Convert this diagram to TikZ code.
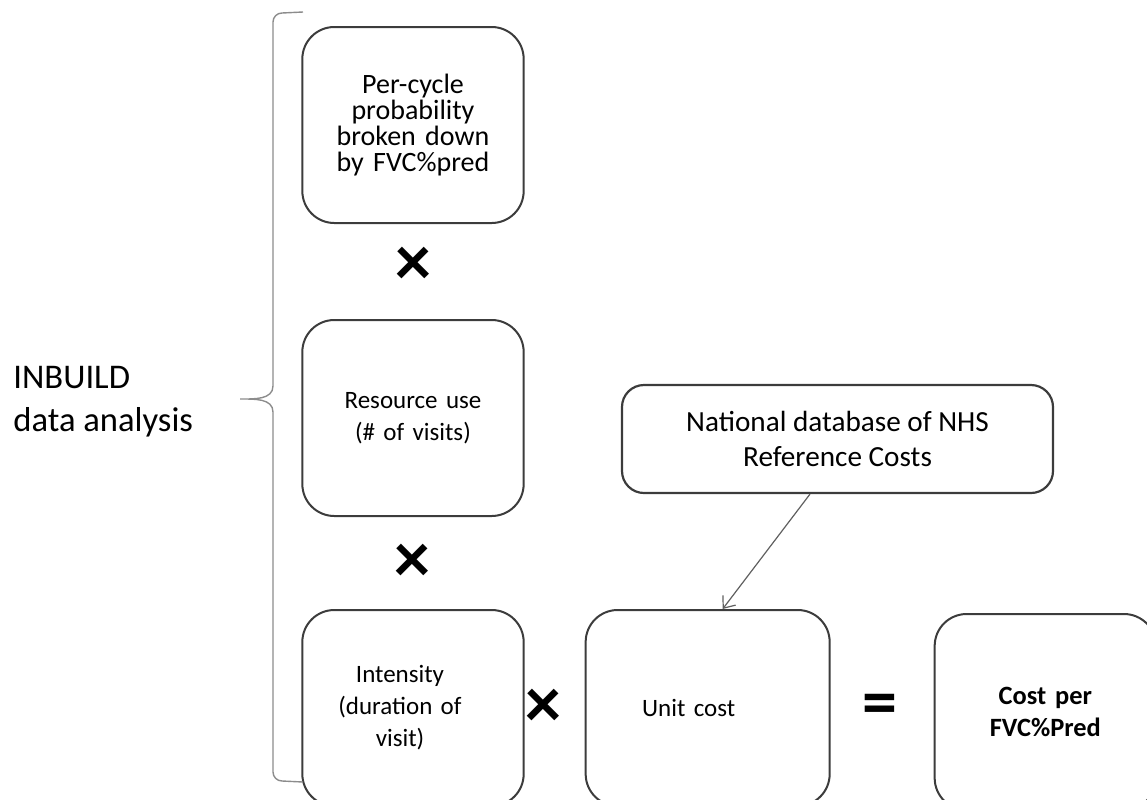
\documentclass[tikz,border=0pt]{standalone}
\usepackage{fontspec}
\setmainfont{Carlito}
\usepackage{xcolor}
\usetikzlibrary{arrows.meta,positioning}
\definecolor{boxline}{RGB}{60,60,60}
\definecolor{braceline}{RGB}{140,140,140}
\definecolor{linkline}{RGB}{95,95,95}
\newcommand\lnudge[1]{\hspace*{-#1}}

\begin{document}
\begin{tikzpicture}[
    x=1pt,y=-1pt,
    node distance=30pt,
    stepbox/.style={rectangle,rounded corners=16pt,draw=boxline,line width=1pt,
      text width=104pt,minimum width=110pt,minimum height=98pt,align=center,
      font=\fontsize{12.5}{16}\selectfont},
    srcbox/.style={rectangle,rounded corners=11pt,draw=boxline,line width=1.1pt,
      minimum width=215.5pt,minimum height=54pt,align=center,
      font=\fontsize{14.6}{17.5}\selectfont},
    op/.style={inner sep=0pt,font=\fontsize{36}{36}\selectfont\bfseries},
    arrow/.style={-{Straight Barb[length=5pt,width=8pt]},draw=linkline,line width=0.6pt}
  ]
    \useasboundingbox (0,0) rectangle (573.5,399.5);
    \clip (0,0) rectangle (573.5,399.5);
    % INBUILD part
    \node[stepbox,font=\fontsize{14}{13}\selectfont] (prob) at (206.5,62.5) {Per-cycle\\probability\\broken down\\by FVC\%pred};
    \node[stepbox,below=47.5pt of prob] (resource) {Resource use\\(\# of visits)};
    \node[stepbox,below=46pt of resource] (intensity) {\lnudge{13pt}Intensity\\\lnudge{13pt}(duration of\\\lnudge{13pt}visit)};
    \node[stepbox,minimum width=122pt,right=30pt of intensity] (unit) {\lnudge{19pt}Unit cost};
    \node[stepbox,right=51.5pt of unit,yshift=-2pt,font=\fontsize{13.2}{16}\selectfont\bfseries] (result) {Cost per\\FVC\%Pred};
    \node[srcbox] (nhs) at (418.75,219.5) {National database of NHS\\Reference Costs};
    \node[op] (times1) at (206.5,133) {×};
    \node[op] (times2) at (206,281.5) {×};
    \node[op] (times3) at (271.5,354) {×};
    \node[op,font=\fontsize{35}{35}\selectfont\bfseries] (equals) at (440,355) {=};
    \draw[arrow] ([xshift=-13.75pt]nhs.south) -- ([xshift=7.5pt]unit.north);
    % brace and label
    \draw[braceline,line width=0.7pt] (151.5,6) -- (141,6.5) to[out=180,in=90] (136.5,11)
      -- (136.5,193) to[out=-90,in=0] (120,199.5) to[out=0,in=90] (136.5,206)
      -- (136.5,386) to[out=-90,in=180] (141,390.5) -- (151.5,391);
    \node[anchor=west,inner sep=0pt,align=left,font=\fontsize{17.3}{21.5}\selectfont] (label) at (6.5,201) {INBUILD\\data analysis};
  \end{tikzpicture}
\end{document}
